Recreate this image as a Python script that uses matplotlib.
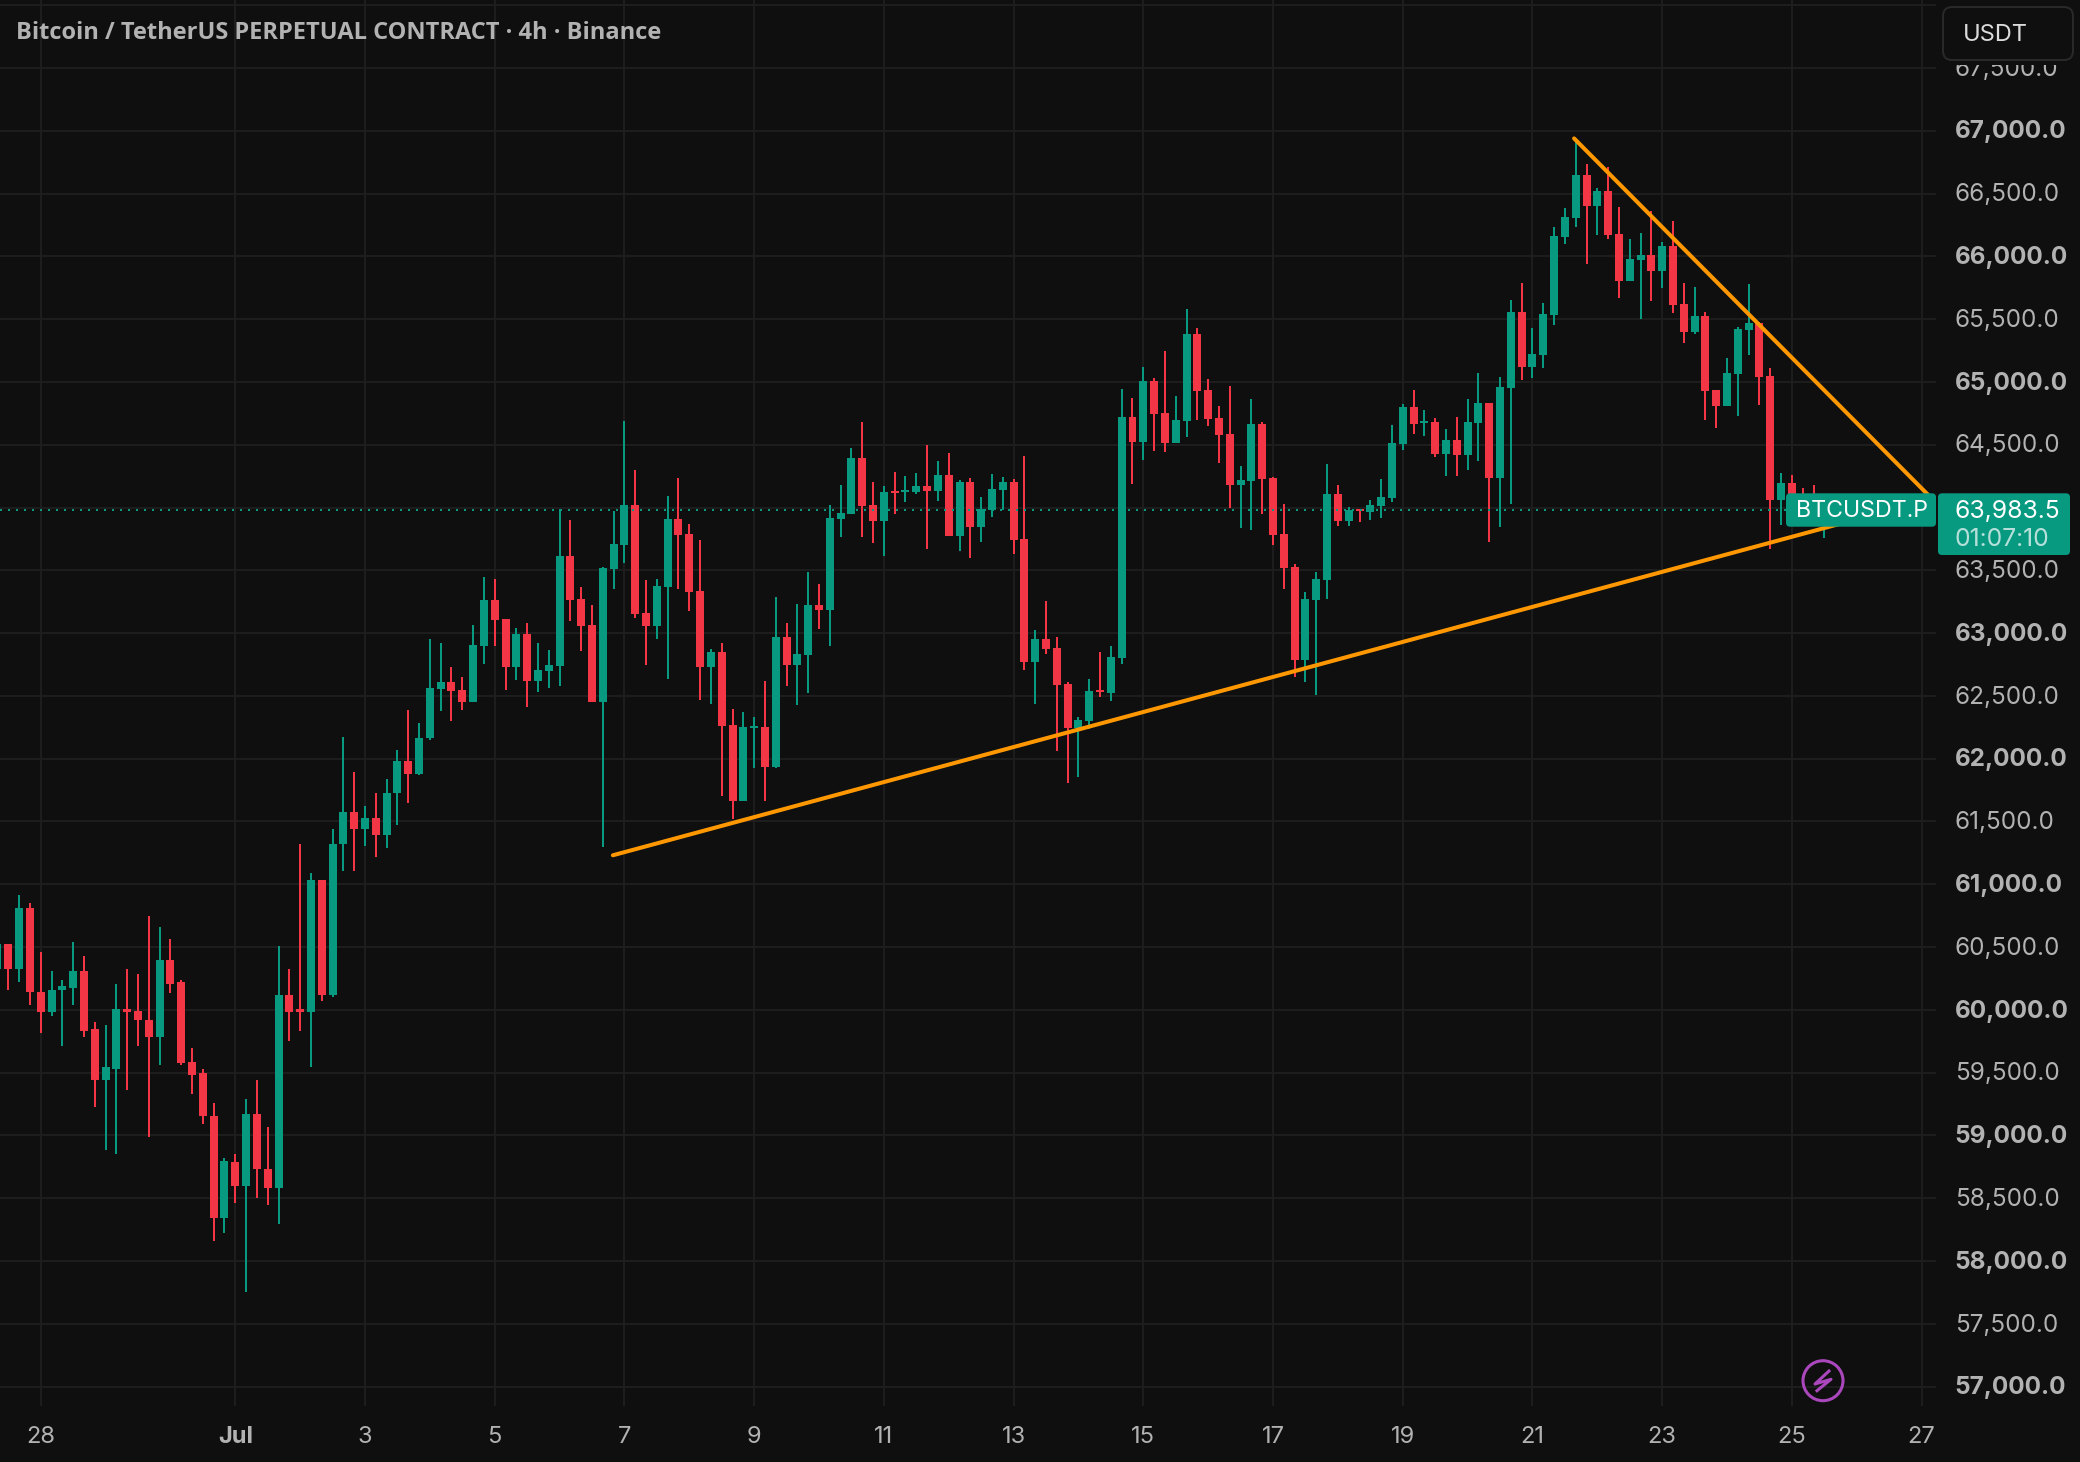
import matplotlib
matplotlib.use('Agg')
import matplotlib.pyplot as plt
import matplotlib.transforms as mtransforms
import numpy as np
from matplotlib.patches import Circle, FancyBboxPatch, Rectangle

BG = '#0f0f0f'
GRID = '#1f1f1f'
UP = '#089981'
DOWN = '#f23645'
TICK = '#b2b2b2'
ORANGE = '#ff9800'
PURPLE = '#ab47bc'

# bars are counted from 28 Jun 00:00, one bar = 4h
first_bar = -4

open_ = [
    60322, 60521, 60322, 60813, 60146, 59986, 60162, 60178, 60307, 59844,
    59438, 59533, 60011, 59995, 59923, 59788, 60401, 60219, 59589, 59495,
    59158, 58346, 58787, 58595, 59168, 58736, 58579, 60115, 60005, 59986,
    61031, 60115, 61317, 61578, 61437, 61531, 61396, 61723, 61984, 61880,
    62162, 62553, 62609, 62545, 62449, 62896, 63263, 63113, 62731, 62994,
    62620, 62699, 62739, 63614, 63272, 63065, 62452, 63511, 63702, 64020,
    63161, 63057, 63368, 63909, 63790, 63336, 62731, 62850, 62269, 61664,
    62245, 62253, 61935, 62970, 62747, 62827, 63224, 63185, 63909, 63949,
    64394, 64020, 63893, 64132, 64124, 64124, 64172, 64132, 64259, 63774,
    64203, 63845, 63981, 64140, 64203, 63750, 62771, 62950, 62879, 62593,
    62244, 62299, 62545, 62521, 62799, 64721, 64523, 65007, 64753, 64515,
    64689, 65380, 64936, 64713, 64586, 64181, 64213, 64666, 64237, 63792,
    63530, 62784, 63260, 63419, 64110, 63895, 63991, 63967, 64014, 64078,
    64507, 64801, 64673, 64681, 64427, 64538, 64419, 64673, 64832, 64237,
    64951, 65555, 65116, 65217, 65534, 66154, 66305, 66647, 66401, 66520,
    66178, 65805, 65972, 66011, 65884, 66083, 65622, 65399, 65526, 64938,
    64811, 65066, 65415, 65471, 65050, 64056, 64199, 64050, 64010, 63970,
]
high = [
    60521, 60521, 60917, 60848, 60464, 60307, 60241, 60537, 60433, 59907,
    59876, 60209, 60322, 60282, 60750, 60662, 60562, 60241, 59693, 59526,
    59262, 58818, 58850, 59293, 59438, 59064, 60511, 60329, 61317, 61093,
    61031, 61443, 62176, 61896, 61625, 61723, 61842, 62072, 62384, 62286,
    62952, 62920, 62729, 62649, 63064, 63447, 63431, 63113, 63041, 63081,
    62922, 62866, 63986, 63901, 63368, 63224, 63527, 63973, 64689, 64299,
    63423, 63431, 64092, 64235, 63869, 63742, 62874, 62922, 62397, 62373,
    62333, 62620, 63288, 63081, 63232, 63487, 63392, 64020, 64180, 64474,
    64681, 64203, 64172, 64283, 64251, 64275, 64498, 64371, 64434, 64219,
    64235, 64084, 64267, 64243, 64227, 64410, 63025, 63252, 62966, 62609,
    62331, 62633, 62847, 62895, 64943, 64872, 65118, 65031, 65245, 64888,
    65579, 65428, 65023, 64808, 64967, 64332, 64864, 64681, 64245, 64030,
    63554, 63331, 63490, 64348, 64181, 64006, 63991, 64062, 64229, 64658,
    64824, 64936, 64777, 64713, 64626, 64721, 64864, 65071, 64832, 65039,
    65650, 65786, 65431, 65630, 66234, 66385, 66945, 66734, 66544, 66711,
    66393, 66138, 66186, 66361, 66115, 66281, 65789, 65757, 65558, 64938,
    65193, 65439, 65781, 65479, 65113, 64271, 64258, 64153, 64178, 64060,
]
low = [
    60260, 60156, 60219, 60042, 59813, 59948, 59709, 60036, 59781, 59224,
    58881, 58850, 59360, 59709, 58985, 59558, 60131, 59564, 59328, 59095,
    58157, 58220, 58466, 57751, 58500, 58444, 58293, 59756, 59835, 59548,
    60074, 60105, 61103, 61109, 61301, 61219, 61292, 61474, 61651, 61874,
    62149, 62378, 62298, 62386, 62449, 62753, 62896, 62548, 62628, 62413,
    62532, 62564, 62580, 63097, 62858, 62452, 61298, 63352, 63559, 63121,
    62747, 62954, 62635, 63352, 63177, 62468, 62437, 61704, 61521, 61664,
    61927, 61664, 61927, 62580, 62429, 62524, 63033, 62898, 63766, 63949,
    63766, 63718, 63614, 63949, 64044, 64108, 63670, 64052, 63774, 63654,
    63598, 63726, 63925, 63981, 63630, 62707, 62437, 62831, 62061, 61807,
    61854, 62236, 62490, 62458, 62752, 64189, 64380, 64451, 64443, 64515,
    64562, 64697, 64650, 64356, 63998, 63840, 63824, 63951, 63705, 63355,
    62649, 62609, 62506, 63268, 63856, 63856, 63887, 63903, 63919, 64046,
    64459, 64586, 64570, 64403, 64253, 64253, 64300, 64372, 63729, 63848,
    64030, 65013, 65034, 65113, 65455, 66099, 66234, 65940, 66170, 66138,
    65670, 65805, 65503, 65646, 65749, 65550, 65312, 65383, 64700, 64636,
    64811, 64732, 65217, 64819, 63667, 63858, 63990, 63960, 63950, 63757,
]
close = [
    60521, 60322, 60813, 60140, 59986, 60162, 60187, 60307, 59835, 59438,
    59542, 60011, 59986, 59917, 59788, 60401, 60209, 59580, 59485, 59152,
    58346, 58793, 58595, 59168, 58730, 58579, 60115, 59986, 59986, 61031,
    60115, 61323, 61578, 61437, 61531, 61396, 61729, 61984, 61880, 62167,
    62561, 62609, 62537, 62449, 62904, 63263, 63104, 62731, 62994, 62620,
    62707, 62747, 63614, 63264, 63057, 62452, 63519, 63710, 64020, 63153,
    63057, 63376, 63909, 63782, 63328, 62731, 62850, 62261, 61664, 62253,
    62261, 61935, 62970, 62747, 62834, 63224, 63185, 63917, 63957, 64394,
    64012, 63893, 64124, 64116, 64140, 64172, 64132, 64259, 63774, 64203,
    63845, 63989, 64148, 64203, 63742, 62771, 62954, 62871, 62585, 62244,
    62307, 62537, 62529, 62807, 64721, 64523, 65007, 64745, 64515, 64697,
    65380, 64928, 64705, 64578, 64181, 64221, 64666, 64229, 63784, 63522,
    62784, 63268, 63427, 64110, 63895, 63983, 63975, 64022, 64086, 64515,
    64801, 64666, 64689, 64427, 64538, 64419, 64681, 64832, 64237, 64959,
    65555, 65116, 65225, 65542, 66162, 66313, 66647, 66401, 66520, 66170,
    65805, 65979, 66011, 65884, 66083, 65614, 65399, 65526, 64930, 64811,
    65074, 65423, 65471, 65042, 64056, 64199, 64050, 64010, 63970, 63983.5,
]

tick_bars = [0, 18, 30, 42, 54, 66, 78, 90, 102, 114, 126, 138, 150, 162, 174]
tick_labels = ['28', 'Jul', '3', '5', '7', '9', '11', '13', '15', '17', '19', '21', '23', '25', '27']
price_ticks = np.arange(57000, 68500, 500)
# these two sit behind the price tag and the top edge
hidden_prices = [64000, 68000]

last_price = 63983.5
# trend lines, (bar, price)
res_bars = [141.85, 175.3]
res_prices = [66939, 64040]
sup_bars = [52.93, 175.3]
sup_prices = [61231, 64076]

plt.rcParams['font.family'] = ['Inter', 'DejaVu Sans']

W, H = 2080, 1462
fig = plt.figure(figsize=(W / 100, H / 100), dpi=100, facecolor=BG)
ax = fig.add_axes([0, (H - 1406) / H, 1936 / W, 1406 / H], facecolor=BG)

open_ = np.array(open_)
high = np.array(high)
low = np.array(low)
close = np.array(close)
x = np.arange(len(close)) + first_bar
rising = close >= open_

for mask, colour in ((rising, UP), (~rising, DOWN)):
    ax.vlines(x[mask], low[mask], high[mask], color=colour, lw=1.44, zorder=3)
    ax.bar(x[mask], np.abs(close - open_)[mask], bottom=np.minimum(open_, close)[mask],
           width=0.74, color=colour, linewidth=0, zorder=3)

ax.axhline(last_price, color=UP, lw=1.44, ls=(0, (1, 3)), zorder=3.5)
ax.plot(res_bars, res_prices, color=ORANGE, lw=2.9, solid_capstyle='round', zorder=4)
ax.plot(sup_bars, sup_prices, color=ORANGE, lw=2.9, solid_capstyle='round', zorder=4)

ax.set_xlim(-3.765, 175.33)
ax.set_ylim(56846, 68041)

ax.set_xticks(tick_bars)
ax.set_xticklabels(tick_labels)
ax.set_yticks(price_ticks)
ax.set_yticklabels(['' if p in hidden_prices else f'{p:,.1f}' for p in price_ticks])
ax.yaxis.tick_right()
ax.tick_params(axis='x', length=0, pad=14.3, labelsize=17, labelcolor=TICK)
ax.tick_params(axis='y', length=0, pad=13.4, labelsize=17.5, labelcolor=TICK)
ax.grid(True, color=GRID, lw=1.3, zorder=0)
ax.set_axisbelow(True)
for s in ax.spines.values():
    s.set_visible(False)

for lab in ax.get_xticklabels():
    if lab.get_text() == 'Jul':
        lab.set_fontweight('bold')
lift = mtransforms.ScaledTranslation(0, 1.3 / 100, fig.dpi_scale_trans)
for lab, p in zip(ax.get_yticklabels(), price_ticks):
    lab.set_transform(lab.get_transform() + lift)
    if p % 1000 == 0:
        lab.set_fontweight('bold')

# everything sitting on top of the chart, in pixels
top = fig.add_axes([0, 0, 1, 1], zorder=5)
top.set_xlim(0, W)
top.set_ylim(H, 0)
top.axis('off')

top.text(16, 33, 'Bitcoin / TetherUS PERPETUAL CONTRACT · 4h · Binance', color=TICK,
         fontsize=17, family=['Open Sans', 'DejaVu Sans'], fontweight='bold', va='center', ha='left')

top.add_patch(Rectangle((1938, 0), 142, 65, facecolor=BG, edgecolor='none'))
top.add_patch(FancyBboxPatch((1943, 7), 130, 53, boxstyle='round,pad=0,rounding_size=9',
                             facecolor=BG, edgecolor='#2a2a2a', lw=1.4))
top.text(1963, 35, 'USDT', color='#dbdbdb', fontsize=17, va='center', ha='left')

top.add_patch(FancyBboxPatch((1786, 493.3), 150, 33.4, boxstyle='round,pad=0,rounding_size=4',
                             facecolor=UP, edgecolor='none'))
top.add_patch(FancyBboxPatch((1938, 493.3), 132, 61.7, boxstyle='round,pad=0,rounding_size=4',
                             facecolor=UP, edgecolor='none'))
top.text(1796, 511, 'BTCUSDT.P', color='white', fontsize=16.7, va='center', ha='left')
top.text(1955, 511, f'{last_price:,.1f}', color='white', fontsize=17.8, va='center', ha='left')
top.text(1955, 539.5, '01:07:10', color='#b5e0d9', fontsize=17.8, va='center', ha='left')

top.add_patch(Circle((1823, 1380.7), 20, facecolor='none', edgecolor=PURPLE, lw=2.2))
top.plot([1829, 1815, 1831, 1817], [1371, 1384, 1379.3, 1390.7], color=PURPLE, lw=2.2)

fig.savefig('out.png', dpi=100, facecolor=BG)
